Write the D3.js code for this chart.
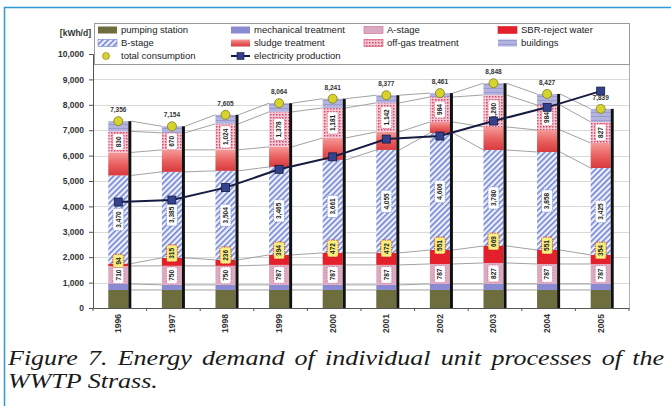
<!DOCTYPE html>
<html><head><meta charset="utf-8">
<script src="https://cdn.jsdelivr.net/npm/d3@7"></script>
<style>
body{margin:0;background:#fff}
svg{display:block;font-family:Arial,"Liberation Sans",sans-serif}
</style></head><body>
<svg id="chart" width="671" height="406"></svg>
<script>
// values, kWh/d
const years = ["1996","1997","1998","1999","2000","2001","2002","2003","2004","2005"]
const pumpingStation = [710,710,710,710,710,710,710,710,710,710]
const mechanicalTreatment = [235,200,200,200,200,200,236,236,236,236]
const aStage = [710,750,750,787,787,787,787,827,787,787]
const sbrRejectWater = [94,315,236,394,472,472,551,669,551,354]
const bStage = [3470,3385,3504,3465,3661,4055,4606,3780,3858,3425]
const sludgeTreatment = [905,865,827,787,866,709,433,906,866,984]
const offGasTreatment = [830,670,1024,1378,1181,1142,984,1260,984,827]
const buildings = [402,259,354,343,364,302,154,460,435,516]
const totalConsumption = [7356,7154,7605,8064,8241,8377,8461,8848,8427,7839]
const electricityProduction = [4170,4250,4740,5460,5950,6650,6770,7360,7900,8540]
const yTicks = [0,1000,2000,3000,4000,5000,6000,7000,8000,9000,10000]

const svg = d3.select("#chart")
const W = 671, H = 406
const plot = { left: 93, right: 629, top: 54, bottom: 308 }

// pattern / gradient defs
const defs = svg.append("defs")
const hatch = defs.append("pattern").attr("id", "hatch").attr("patternUnits", "userSpaceOnUse")
  .attr("width", 4).attr("height", 4).attr("patternTransform", "rotate(45)")
hatch.append("rect").attr("width", 4).attr("height", 4).attr("fill", "#eef0fb")
hatch.append("rect").attr("width", 1.6).attr("height", 4).attr("fill", "#6f82d2")
const check = defs.append("pattern").attr("id", "check").attr("patternUnits", "userSpaceOnUse")
  .attr("width", 3).attr("height", 3)
check.append("rect").attr("width", 3).attr("height", 3).attr("fill", "#f3c9d4")
check.append("rect").attr("width", 1.5).attr("height", 1.5).attr("fill", "#d9476a")
const sludgeGrad = defs.append("linearGradient").attr("id", "sludge").attr("x1", 0).attr("y1", 1).attr("x2", 0).attr("y2", 0)
sludgeGrad.append("stop").attr("offset", "0%").attr("stop-color", "#d83a3e")
sludgeGrad.append("stop").attr("offset", "45%").attr("stop-color", "#e85c5c")
sludgeGrad.append("stop").attr("offset", "100%").attr("stop-color", "#f59a98")
const bldPat = defs.append("pattern").attr("id", "bld").attr("patternUnits", "userSpaceOnUse")
  .attr("width", 4).attr("height", 4)
bldPat.append("rect").attr("width", 4).attr("height", 4).attr("fill", "#b3b3df")
bldPat.append("rect").attr("width", 4).attr("height", 1).attr("fill", "#9b9bcf")

const series = [
  { key: "pumping", name: "pumping station", values: pumpingStation, fill: "#6e6d3d" },
  { key: "mech", name: "mechanical treatment", values: mechanicalTreatment, fill: "#8a8ad2" },
  { key: "astage", name: "A-stage", values: aStage, fill: "#dcaac0", label: { bg: "#fff", stroke: "#c86a94" } },
  { key: "sbr", name: "SBR-reject water", values: sbrRejectWater, fill: "#e3202c", label: { bg: "#f5ef80", stroke: "#d02020", above: true } },
  { key: "bstage", name: "B-stage", values: bStage, fill: "url(#hatch)", label: { bg: "#fff", stroke: "#6f82d2" } },
  { key: "sludge", name: "sludge treatment", values: sludgeTreatment, fill: "url(#sludge)" },
  { key: "offgas", name: "off-gas treatment", values: offGasTreatment, fill: "url(#check)", label: { bg: "#fff", stroke: "#d9476a" } },
  { key: "bld", name: "buildings", values: buildings, fill: "url(#bld)" }
]

const table = years.map((yr, i) => {
  const row = { year: yr }
  series.forEach(s => row[s.key] = s.values[i])
  return row
})
const stacked = d3.stack().keys(series.map(s => s.key))(table)

const x = d3.scaleBand().domain(years).range([plot.left, plot.right]).paddingInner(0.57).paddingOuter(0.285)
const y = d3.scaleLinear().domain([0, 10000]).range([plot.bottom, plot.top])
const bw = x.bandwidth()
const shadow = 3

// outer frame
svg.append("line").attr("x1", 4).attr("x2", W).attr("y1", 7.5).attr("y2", 7.5).attr("stroke", "#2c9ad6").attr("stroke-width", 1.5)
svg.append("line").attr("x1", 4.5).attr("x2", 4.5).attr("y1", 7).attr("y2", H).attr("stroke", "#2c9ad6").attr("stroke-width", 1.5)

// gridlines
svg.append("g").selectAll("line").data(yTicks).join("line")
  .attr("x1", plot.left).attr("x2", plot.right).attr("y1", d => Math.round(y(d)) + 0.5).attr("y2", d => Math.round(y(d)) + 0.5)
  .attr("stroke", "#cfcfcf").attr("stroke-width", 0.8)
svg.append("line").attr("x1", plot.right + 0.5).attr("x2", plot.right + 0.5).attr("y1", plot.top).attr("y2", plot.bottom)
  .attr("stroke", "#b0b0b0")

// series lines between bars (segment tops)
const sl = svg.append("g")
stacked.forEach(layer => {
  for (let i = 0; i < years.length - 1; i++) {
    sl.append("line")
      .attr("x1", x(years[i]) + bw).attr("x2", x(years[i + 1]))
      .attr("y1", y(layer[i][1])).attr("y2", y(layer[i + 1][1]))
      .attr("stroke", "#8a8a8a").attr("stroke-width", 0.8)
  }
})

// stacked bars
const bars = svg.append("g")
stacked.forEach((layer, k) => {
  bars.selectAll(null).data(layer).join("rect")
    .attr("x", d => x(d.data.year)).attr("width", bw - shadow)
    .attr("y", d => y(d[1])).attr("height", d => y(d[0]) - y(d[1]))
    .attr("fill", series[k].fill)
})
bars.selectAll(".shadow").data(totalConsumption).join("rect").attr("class", "shadow")
  .attr("x", (d, i) => x(years[i]) + bw - shadow).attr("width", shadow)
  .attr("y", d => y(d)).attr("height", d => plot.bottom - y(d)).attr("fill", "#111")

// data labels inside segments
const fmt = d3.format(",")
const lab = svg.append("g").attr("font-size", 6.5).attr("font-weight", "bold").attr("fill", "#222")
stacked.forEach((layer, k) => {
  const s = series[k]
  if (!s.label) return
  layer.forEach(d => {
    const cx = x(d.data.year) + (bw - shadow) / 2
    const g = lab.append("g")
    const r = g.append("rect")
    const t = g.append("text").attr("text-anchor", "middle").attr("dy", "0.35em").text(fmt(d[1] - d[0]))
    const len = t.node().getComputedTextLength()
    // the SBR label sits on top of its thin segment
    const cy = s.label.above ? y(d[1]) - len / 2 + 1 : (y(d[0]) + y(d[1])) / 2
    g.attr("transform", `translate(${cx},${cy}) rotate(-90)`)
    r.attr("x", -len / 2 - 3).attr("y", -5.5).attr("width", len + 6).attr("height", 11).attr("rx", 2)
      .attr("fill", s.label.bg).attr("stroke", s.label.stroke).attr("stroke-width", 0.8).attr("stroke-dasharray", "1.5,1")
  })
})

// axes
const yAxis = svg.append("g").attr("transform", `translate(${plot.left},0)`)
  .call(d3.axisLeft(y).tickValues(yTicks).tickFormat(fmt).tickSize(4).tickPadding(5))
yAxis.selectAll("text").attr("font-size", 8.5).attr("font-weight", "bold").attr("fill", "#333").attr("font-family", "Arial, Liberation Sans")
yAxis.selectAll("line,path").attr("stroke", "#555")

const xAxis = svg.append("g").attr("transform", `translate(0,${plot.bottom})`)
  .call(d3.axisBottom(x).tickSize(0).tickPadding(0))
xAxis.select(".domain").attr("stroke", "#555")
xAxis.selectAll("text").attr("font-size", 8.5).attr("font-weight", "bold").attr("fill", "#333")
  .attr("font-family", "Arial, Liberation Sans")
  .attr("transform", "translate(-" + (shadow / 2) + ",6) rotate(-90)").attr("text-anchor", "end").attr("dy", "0.35em").attr("y", 0)
svg.append("g").selectAll("line").data(d3.range(years.length + 1)).join("line")
  .attr("x1", i => plot.left + i * x.step()).attr("x2", i => plot.left + i * x.step())
  .attr("y1", plot.bottom).attr("y2", plot.bottom + 3).attr("stroke", "#555")

svg.append("text").attr("x", 91).attr("y", 36).attr("text-anchor", "end")
  .attr("font-size", 8.5).attr("font-weight", "bold").attr("fill", "#333").text("[kWh/d]")

// electricity production line
const line = d3.line().x((d, i) => x(years[i]) + (bw - shadow) / 2).y(d => y(d))
svg.append("path").attr("d", line(electricityProduction)).attr("fill", "none")
  .attr("stroke", "#161c40").attr("stroke-width", 2)
svg.append("g").selectAll("rect").data(electricityProduction).join("rect")
  .attr("x", (d, i) => x(years[i]) + (bw - shadow) / 2 - 4).attr("y", d => y(d) - 4)
  .attr("width", 8).attr("height", 8).attr("fill", "#34428e").attr("stroke", "#141a40").attr("stroke-width", 0.8)

// total consumption markers and labels
const tc = svg.append("g")
tc.selectAll("circle").data(totalConsumption).join("circle")
  .attr("cx", (d, i) => x(years[i]) + (bw - shadow) / 2).attr("cy", d => y(d)).attr("r", 4.5)
  .attr("fill", "#d6d42c").attr("stroke", "#7c7a20").attr("stroke-width", 0.8)
tc.selectAll("text").data(totalConsumption).join("text")
  .attr("x", (d, i) => x(years[i]) + (bw - shadow) / 2).attr("y", d => y(d) - 9)
  .attr("text-anchor", "middle").attr("font-size", 6.5).attr("font-weight", "bold").attr("fill", "#333").text(fmt)

// legend
const leg = svg.append("g").attr("font-size", 9.5).attr("fill", "#222")
leg.append("rect").attr("x", 94.5).attr("y", 23.5).attr("width", 535).attr("height", 41)
  .attr("fill", "#fff").attr("stroke", "#9a9a9a")
const legCols = [98, 231, 364, 498]
const legRows = [30, 43, 56]
const legOrder = ["pumping", "mech", "astage", "sbr", "bstage", "sludge", "offgas", "bld"]
legOrder.forEach((k, i) => {
  const s = series.find(d => d.key === k)
  const lx = legCols[i % 4], ly = legRows[Math.floor(i / 4)]
  leg.append("rect").attr("x", lx).attr("y", ly - 3.5).attr("width", 19).attr("height", 7)
    .attr("fill", s.fill).attr("stroke", s.label ? s.label.stroke : "none").attr("stroke-width", 0.6)
  leg.append("text").attr("x", lx + 23).attr("y", ly).attr("dy", "0.35em").text(s.name)
})
leg.append("circle").attr("cx", legCols[0] + 8).attr("cy", legRows[2]).attr("r", 3.5)
  .attr("fill", "#d6d42c").attr("stroke", "#7c7a20").attr("stroke-width", 0.6)
leg.append("text").attr("x", legCols[0] + 23).attr("y", legRows[2]).attr("dy", "0.35em").text("total consumption")
leg.append("line").attr("x1", legCols[1]).attr("x2", legCols[1] + 19).attr("y1", legRows[2]).attr("y2", legRows[2])
  .attr("stroke", "#161c40").attr("stroke-width", 2)
leg.append("rect").attr("x", legCols[1] + 6).attr("y", legRows[2] - 3.5).attr("width", 7).attr("height", 7)
  .attr("fill", "#34428e").attr("stroke", "#141a40").attr("stroke-width", 0.6)
leg.append("text").attr("x", legCols[1] + 23).attr("y", legRows[2]).attr("dy", "0.35em").text("electricity production")

// caption: serif italic, a little stretched so the first line fills the box
const captionLines = ["Figure 7. Energy demand of individual unit processes of the", "WWTP Strass."]
const capLeft = 8, capRight = 664, wordGap = 8
const cap = svg.append("g").attr("font-family", "'Liberation Serif','Times New Roman',serif")
  .attr("font-style", "italic").attr("font-size", 20.5).attr("fill", "#1a1a1a")
const l1 = cap.append("g"), l2 = cap.append("g")
const words = captionLines[0].split(" ")
const tmp = words.map(w => l1.append("text").text(w))
const widths = tmp.map(t => t.node().getComputedTextLength())
const sx = (capRight - capLeft) / (d3.sum(widths) + wordGap * (words.length - 1))
let cx0 = 0
tmp.forEach((t, i) => { t.attr("x", cx0); cx0 += widths[i] + wordGap })
l1.attr("transform", `translate(${capLeft},365) scale(${sx},1)`)
l2.append("text").text(captionLines[1])
l2.attr("transform", `translate(${capLeft},388) scale(${sx},1)`)
</script>
</body></html>
